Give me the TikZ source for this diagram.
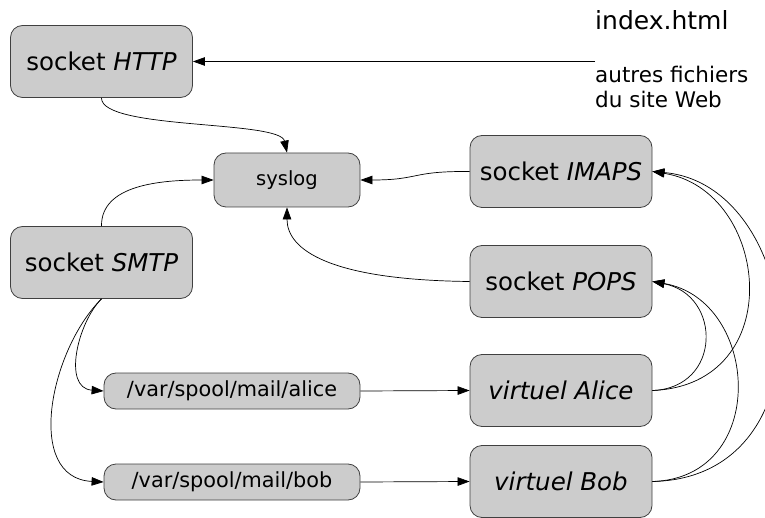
\documentclass[tikz,border=0pt]{standalone}
\usepackage{fontspec}
\setmainfont{DejaVu Sans}
\usetikzlibrary{arrows.meta}

\tikzset{
  box/.style={draw=black!75, fill=black!20, line width=0.8pt, rounded corners=12pt,
              inner sep=0pt, align=center},
  bigbox/.style={box, minimum width=182pt, minimum height=72pt,
                 font=\fontsize{24.5}{29}\selectfont},
  midbox/.style={box, minimum width=146pt, minimum height=54pt,
                 font=\fontsize{19.5}{24}\selectfont},
  filebox/.style={box, minimum width=256pt, minimum height=36pt,
                  font=\fontsize{20.8}{25}\selectfont},
  link/.style={draw=black, line width=0.7pt, -{Triangle[length=12pt,width=8.5pt]}},
}

\begin{document}
\begin{tikzpicture}[x=1pt, y=-1pt]
  \useasboundingbox (0,0) rectangle (765,518);

  % servers and log
  \node[bigbox] (http)  at (101.5,61.5) {socket \textit{HTTP}};
  \node[midbox] (syslog) at (287,180)   {syslog};
  \node[bigbox] (smtp)  at (101.5,262.5) {socket \textit{SMTP}};
  \node[bigbox] (imaps) at (561,171.5)  {socket \textit{IMAPS}};
  \node[bigbox] (pops)  at (561,281.5)  {socket \textit{POPS}};

  % mailboxes and virtual users
  \node[filebox] (alice) at (232,391) {/var/spool/mail/alice};
  \node[filebox] (bob)   at (232,482) {/var/spool/mail/bob};
  \node[bigbox]  (valice) at (561,390.5) {\textit{virtuel Alice}};
  \node[bigbox]  (vbob)   at (561,481.5) {\textit{virtuel Bob}};

  % web content
  \node[anchor=base west, inner sep=0pt, font=\fontsize{25}{30}\selectfont] (index) at (595,30) {index.html};
  \node[anchor=north west, inner sep=0pt, align=left, font=\fontsize{21.5}{25}\selectfont] (others) at (595,66)
    {autres fichiers\\du site Web};
  \coordinate (web) at (595,61.5);

  % connectors
  \draw[link] (web) -- (http.east);
  \draw[link] (http.south) .. controls (101,130) and (280,120) .. (syslog.north);
  \draw[link] (smtp.north) .. controls (101,185) and (160,180) .. (syslog.west);
  \draw[link] (imaps.west) .. controls (410,171) and (420,180) .. (syslog.east);
  \draw[link] (pops.west) .. controls (330,280) and (287,250) .. (syslog.south);

  \draw[link] (smtp.south) .. controls (78,322) and (62,388) .. (alice.west);
  \draw[link] (smtp.south) .. controls (50,350) and (24,478) .. (bob.west);

  \draw[link] (alice.east) -- (valice.west);
  \draw[link] (bob.east) -- (vbob.west);

  \draw[link] (valice.east) .. controls (722,388) and (722,295) .. (pops.east);
  \draw[link] (valice.east) .. controls (790,385) and (770,190) .. (imaps.east);
  \draw[link] (vbob.east) .. controls (770,478) and (760,300) .. (pops.east);
  \draw[link] (vbob.east) .. controls (835,478) and (805,185) .. (imaps.east);
\end{tikzpicture}
\end{document}
